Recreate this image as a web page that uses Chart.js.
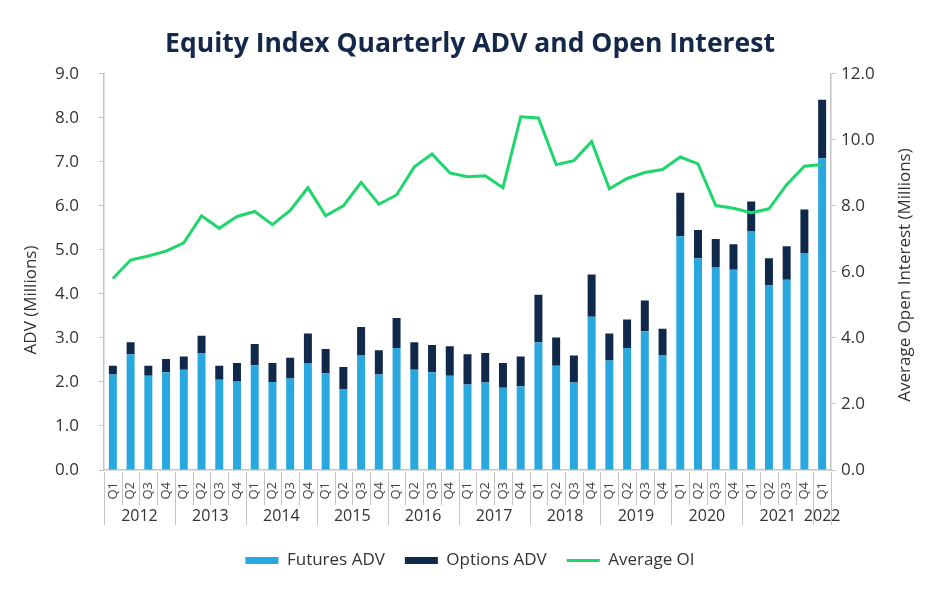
<!DOCTYPE html>
<html>
<head>
<meta charset="utf-8">
<script src="https://cdn.jsdelivr.net/npm/chart.js@4"></script>
<style>
  html, body { margin: 0; padding: 0; background: #ffffff; }
  #wrap { width: 940px; height: 600px; }
</style>
</head>
<body>
<div id="wrap"><canvas id="c" width="940" height="600"></canvas></div>
<script>
const quarterLabels = [
  'Q1','Q2','Q3','Q4', 'Q1','Q2','Q3','Q4', 'Q1','Q2','Q3','Q4',
  'Q1','Q2','Q3','Q4', 'Q1','Q2','Q3','Q4', 'Q1','Q2','Q3','Q4',
  'Q1','Q2','Q3','Q4', 'Q1','Q2','Q3','Q4', 'Q1','Q2','Q3','Q4',
  'Q1','Q2','Q3','Q4', 'Q1'
];
const yearLabels = ['2012','2013','2014','2015','2016','2017','2018','2019','2020','2021','2022'];
const yearQuarterCounts = [4,4,4,4,4,4,4,4,4,4,1];

const futuresADV = [
  2.17, 2.63, 2.14, 2.22,
  2.28, 2.66, 2.05, 2.02,
  2.38, 2.00, 2.08, 2.43,
  2.20, 1.84, 2.61, 2.17,
  2.77, 2.28, 2.22, 2.14,
  1.94, 1.99, 1.87, 1.90,
  2.90, 2.37, 1.99, 3.48,
  2.49, 2.77, 3.15, 2.60,
  5.31, 4.81, 4.61, 4.55,
  5.42, 4.20, 4.32, 4.93,
  7.08
];
const optionsADV = [
  0.20, 0.27, 0.23, 0.30,
  0.30, 0.39, 0.32, 0.41,
  0.48, 0.43, 0.47, 0.67,
  0.55, 0.50, 0.64, 0.55,
  0.68, 0.62, 0.62, 0.67,
  0.69, 0.67, 0.56, 0.68,
  1.08, 0.64, 0.61, 0.96,
  0.61, 0.65, 0.70, 0.61,
  0.99, 0.64, 0.64, 0.58,
  0.68, 0.61, 0.76, 0.99,
  1.33
];
const averageOI = [
  5.80, 6.36, 6.48, 6.63,
  6.88, 7.70, 7.32, 7.68,
  7.83, 7.43, 7.86, 8.55,
  7.70, 8.00, 8.71, 8.05,
  8.33, 9.18, 9.57, 9.00,
  8.88, 8.91, 8.55, 10.70,
  10.66, 9.25, 9.37, 9.95,
  8.52, 8.83, 9.01, 9.10,
  9.48, 9.27, 8.01, 7.93,
  7.79, 7.91, 8.64, 9.20,
  9.25
];
const leftTicks = [0, 1, 2, 3, 4, 5, 6, 7, 8, 9];
const rightTicks = [0, 2, 4, 6, 8, 10, 12];
const leftTitle = 'ADV (Millions)';
const rightTitle = 'Average Open Interest (Millions)';

const FONT = "'Open Sans', 'DejaVu Sans', sans-serif";
const AXIS_GREY = '#c4c4c4';
const TEXT = '#333333';

const yearPlugin = {
  id: 'yearGroups',
  afterDraw(chart) {
    const x = chart.scales.x;
    const ctx = chart.ctx;
    const n = quarterLabels.length;
    const w = x.getPixelForValue(1) - x.getPixelForValue(0);
    const bounds = [];
    for (let i = 0; i < n; i++) bounds.push(x.getPixelForValue(i) - w / 2);
    bounds.push(x.getPixelForValue(n - 1) + w / 2);
    const top = chart.chartArea.bottom + 2;
    ctx.save();
    ctx.strokeStyle = AXIS_GREY;
    ctx.lineWidth = 1;
    const starts = [];
    let acc = 0;
    for (const c of yearQuarterCounts) { starts.push(acc); acc += c; }
    starts.push(acc);
    const isYearBound = new Set(starts);
    for (let i = 0; i <= n; i++) {
      const bx = Math.round(bounds[i]) + 0.5;
      ctx.beginPath();
      ctx.moveTo(bx, top);
      ctx.lineTo(bx, isYearBound.has(i) ? 525 : 505);
      ctx.stroke();
    }
    ctx.fillStyle = TEXT;
    ctx.font = "16px " + FONT;
    ctx.textAlign = 'center';
    ctx.textBaseline = 'middle';
    for (let k = 0; k < yearLabels.length; k++) {
      const cx = (bounds[starts[k]] + bounds[starts[k + 1]]) / 2;
      ctx.fillText(yearLabels[k], cx, 516);
    }
    // axis titles, both reading bottom-to-top
    ctx.font = "17px " + FONT;
    ctx.save();
    ctx.translate(31, 300);
    ctx.rotate(-Math.PI / 2);
    ctx.fillText(leftTitle, 0, 0);
    ctx.restore();
    ctx.save();
    ctx.translate(905, 275);
    ctx.rotate(-Math.PI / 2);
    ctx.fillText(rightTitle, 0, 0);
    ctx.restore();
    ctx.restore();
  }
};

new Chart(document.getElementById('c'), {
  data: {
    labels: quarterLabels,
    datasets: [
      {
        type: 'bar',
        label: 'Futures ADV',
        data: futuresADV,
        backgroundColor: '#29a8e0',
        yAxisID: 'y',
        stack: 'adv',
        categoryPercentage: 0.9,
        barPercentage: 0.5,
        order: 1
      },
      {
        type: 'bar',
        label: 'Options ADV',
        data: optionsADV,
        backgroundColor: '#10284a',
        yAxisID: 'y',
        stack: 'adv',
        categoryPercentage: 0.9,
        barPercentage: 0.5,
        order: 2
      },
      {
        type: 'line',
        label: 'Average OI',
        data: averageOI,
        borderColor: '#1fd66c',
        backgroundColor: '#1fd66c',
        borderWidth: 3,
        pointRadius: 0,
        tension: 0,
        yAxisID: 'y2',
        order: 0
      }
    ]
  },
  options: {
    responsive: false,
    animation: false,
    events: [],
    layout: { padding: { left: 10, right: 10, top: 0, bottom: 21 } },
    plugins: {
      title: {
        display: true,
        text: 'Equity Index Quarterly ADV and Open Interest',
        color: '#14284b',
        font: { family: FONT, size: 26.5, weight: 'bold' },
        padding: { top: 29, bottom: 13 }
      },
      legend: {
        position: 'bottom',
        labels: {
          color: TEXT,
          font: { family: FONT, size: 17 },
          usePointStyle: true,
          pointStyleWidth: 33,
          boxHeight: 7,
          padding: 20,
          generateLabels(chart) {
            const items = Chart.defaults.plugins.legend.labels.generateLabels(chart);
            items.forEach(it => {
              const ds = chart.data.datasets[it.datasetIndex];
              if (ds.type === 'line') {
                it.pointStyle = 'line';
                it.lineWidth = 3;
                it.strokeStyle = ds.borderColor;
              } else {
                it.pointStyle = 'rect';
                it.lineWidth = 0;
                it.fillStyle = ds.backgroundColor;
                it.strokeStyle = ds.backgroundColor;
              }
            });
            items.sort((a, b) => a.datasetIndex - b.datasetIndex);
            return items;
          }
        }
      },
      tooltip: { enabled: false }
    },
    scales: {
      x: {
        stacked: true,
        offset: true,
        grid: { display: false },
        border: { display: true, color: AXIS_GREY, width: 1.5 },
        ticks: {
          autoSkip: false,
          minRotation: 90,
          maxRotation: 90,
          padding: 4,
          color: '#444444',
          font: { family: FONT, size: 13 }
        },
        afterFit(scale) { scale.height = 62; }
      },
      y: {
        position: 'left',
        stacked: true,
        min: 0,
        max: 9,
        afterBuildTicks(scale) { scale.ticks = leftTicks.map(v => ({ value: v })); },
        ticks: {
          padding: 20,
          color: TEXT,
          font: { family: FONT, size: 17 },
          callback: v => Number(v).toFixed(1)
        },
        grid: { drawOnChartArea: false, drawTicks: true, tickLength: 5, color: AXIS_GREY },
        border: { display: true, color: AXIS_GREY, width: 1.5 },
        title: { display: false },
        afterFit(scale) { scale.width = 94; }
      },
      y2: {
        position: 'right',
        min: 0,
        max: 12,
        afterBuildTicks(scale) { scale.ticks = rightTicks.map(v => ({ value: v })); },
        ticks: {
          padding: 5,
          color: TEXT,
          font: { family: FONT, size: 17 },
          callback: v => Number(v).toFixed(1)
        },
        grid: { drawOnChartArea: false, drawTicks: true, tickLength: 5, color: AXIS_GREY },
        border: { display: true, color: AXIS_GREY, width: 1.5 },
        title: { display: false },
        afterFit(scale) { scale.width = 99; }
      }
    }
  },
  plugins: [yearPlugin]
});
</script>
</body>
</html>
